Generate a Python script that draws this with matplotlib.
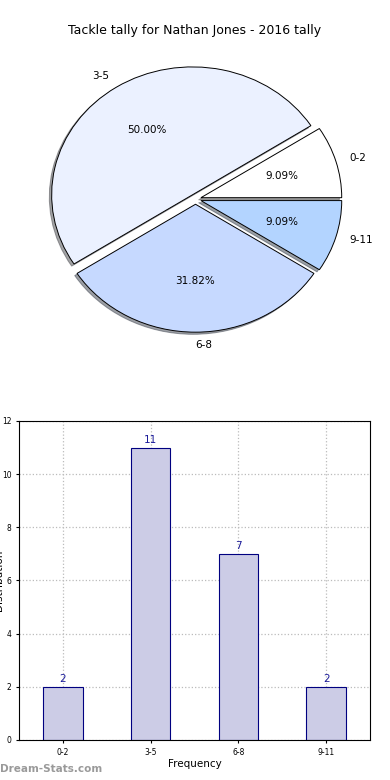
import matplotlib
matplotlib.use("Agg")
import matplotlib.pyplot as plt

# data
categories = ["0-2", "3-5", "6-8", "9-11"]
counts = [2, 11, 7, 2]
pie_colors = ["#FFFFFF", "#EBF1FF", "#C6D9FF", "#B3D4FF"]

fig = plt.figure(figsize=(3.9, 7.8), dpi=100)

# pie chart (old style, not equal aspect)
ax1 = fig.add_axes([0.05, 0.5397, 0.9026, 0.410])
wedges, texts, autotexts = ax1.pie(counts, labels=categories, colors=pie_colors,
                                   explode=[0.04] * 4,
                                   shadow={"ox": -0.012, "oy": -0.012, "shade": 0.7},
                                   autopct="%1.2f%%",
                                   startangle=0, labeldistance=1.1, pctdistance=0.6,
                                   wedgeprops={"edgecolor": "black", "linewidth": 0.7},
                                   textprops={"fontsize": 7.5})
ax1.set_aspect("auto")
ax1.set_xlim(-1.25, 1.25)
ax1.set_ylim(-1.25, 1.25)
fig.text(0.5, 0.961, "Tackle tally for Nathan Jones - 2016 tally", ha="center",
         va="center", fontsize=9)

# bar chart
ax2 = fig.add_axes([0.0487, 0.0513, 0.9, 0.409])
x = list(range(len(categories)))
ax2.bar(x, counts, width=0.45, color="#CCCCE6", edgecolor="#000080", linewidth=0.8,
        zorder=2)
for xi, c in zip(x, counts):
    ax2.text(xi, c + 0.1, str(c), ha="center", va="bottom", color="#1a1a99", fontsize=7.5)
ax2.set_xlim(-0.5, 3.5)
ax2.set_ylim(0, 12)
ax2.set_xticks(x)
ax2.set_xticklabels(categories)
ax2.set_yticks(range(0, 13, 2))
ax2.tick_params(labelsize=5.5, length=2)
ax2.grid(True, linestyle=":", color="#BBBBBB", linewidth=0.9, zorder=0)
ax2.set_xlabel("Frequency", fontsize=7.5, labelpad=2)
ax2.set_ylabel("Distribution", fontsize=7.5)
ax2.yaxis.set_label_coords(-0.043, 0.5)

fig.text(0.0, 0.014, "Dream-Stats.com", color="#9a9a9a", fontsize=7.5, fontweight="bold",
         ha="left", va="center")

fig.savefig("out.png", dpi=100)
